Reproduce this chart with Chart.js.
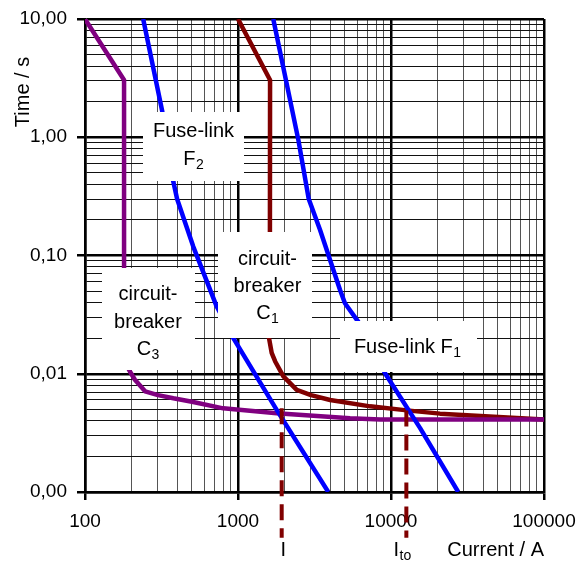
<!DOCTYPE html>
<html><head><meta charset="utf-8">
<script src="https://cdn.jsdelivr.net/npm/chart.js@4"></script>
<style>html,body{margin:0;padding:0;background:#fff;}canvas{display:block;}</style>
</head><body>
<canvas id="c" width="586" height="570"></canvas>
<script>
// ---- data ----
const c3Current = [100, 180, 180, 197, 212, 247, 300, 378, 500, 800, 1790, 5400, 8500, 100000];
const c3Time    = [10, 3.05, 0.013, 0.0104, 0.0089, 0.0071, 0.0066, 0.0062, 0.0058, 0.0051, 0.00464, 0.0042, 0.0041, 0.0041];
const c1Current = [1000, 1620, 1615, 1595, 1660, 1750, 1980, 2420, 3000, 4000, 7300, 12700, 20900, 100000];
const c1Time    = [10, 3.05, 0.03, 0.02, 0.015, 0.0127, 0.0095, 0.0073, 0.0066, 0.006, 0.0053, 0.0049, 0.0046, 0.0041];
const f2Current = [240, 320, 378, 400, 510, 726, 932, 1790, 3890];
const f2Time    = [10, 1.65, 0.42, 0.3, 0.119, 0.037, 0.02, 0.00495, 0.001];
const f1Current = [1700, 2480, 2900, 3435, 4640, 5000, 6100, 9140, 15500, 27500];
const f1Time    = [10, 0.95, 0.3, 0.165, 0.0513, 0.0395, 0.0276, 0.0101, 0.00347, 0.001];
const markerCurrent = [1930, 12600];
const markerTimeTop = [0.0051, 0.0049];
const markerTimeBottom = [0.00041, 0.00041];
const markerMain = ['I', 'I'];
const markerSub  = ['', 'to'];
const xTickValues = [100, 1000, 10000, 100000];
const xTickLabels = ['100', '1000', '10000', '100000'];
const yTickValues = [0.001, 0.01, 0.1, 1, 10];
const yTickLabels = ['0,00', '0,01', '0,10', '1,00', '10,00'];
const xTitle = 'Current / A';
const yTitle = 'Time / s';
const boxLines = [
  [['Fuse-link', ''], ['F', '2']],
  [['circuit-', ''], ['breaker', ''], ['C', '3']],
  [['circuit-', ''], ['breaker', ''], ['C', '1']],
  [['Fuse-link F', '1']]
];

// ---- helpers ----
const FAM = "'Liberation Sans', Arial, Helvetica, sans-serif";
const toXY = (xs, ys) => xs.map((x, i) => ({x: x, y: ys[i]}));
const isIn = (v, arr) => arr.some(t => Math.abs(v - t) / t < 1e-6);
function buildLogTicks(decades) {
  const out = [];
  for (let i = 0; i < decades.length; i++) {
    out.push({value: decades[i]});
    if (i < decades.length - 1) for (let d = 2; d <= 9; d++) out.push({value: decades[i] * d});
  }
  return out;
}
function labelFor(v, vals, labs) {
  for (let i = 0; i < vals.length; i++) if (Math.abs(v - vals[i]) / vals[i] < 1e-6) return labs[i];
  return '';
}
function drawSub(ctx, cx, y, main, sub, size) {
  const subSize = Math.round(size * 0.7);
  ctx.font = size + 'px ' + FAM;
  const wm = ctx.measureText(main).width;
  ctx.font = subSize + 'px ' + FAM;
  const ws = sub ? ctx.measureText(sub).width + 0.5 : 0;
  const x0 = cx - (wm + ws) / 2;
  ctx.textAlign = 'left';
  ctx.textBaseline = 'alphabetic';
  ctx.fillStyle = '#000';
  ctx.font = size + 'px ' + FAM;
  ctx.fillText(main, x0, y);
  if (sub) {
    ctx.font = subSize + 'px ' + FAM;
    ctx.fillText(sub, x0 + wm + 0.5, y + 4);
  }
}

// annotation layout (pixels)
const boxRects = [
  {x: 143, y: 112, w: 101, h: 69, cx: 193.5, base: 137, step: 28},
  {x: 102, y: 268, w: 93, h: 102, cx: 148, base: 300, step: 27.5},
  {x: 218, y: 232, w: 94, h: 106, cx: 267.5, base: 265, step: 26.8},
  {x: 340, y: 321, w: 137, h: 51, cx: 407.5, base: 353, step: 0}
];

const annot = {
  id: 'annot',
  afterDatasetsDraw(chart) {
    const ctx = chart.ctx;
    ctx.save();
    boxRects.forEach((b, i) => {
      ctx.fillStyle = '#fff';
      ctx.fillRect(b.x, b.y, b.w, b.h);
      boxLines[i].forEach((ln, j) => drawSub(ctx, b.cx, b.base + j * b.step, ln[0], ln[1], 20));
    });
    ctx.restore();
  },
  afterDraw(chart) {
    const ctx = chart.ctx;
    const xs = chart.scales.x;
    ctx.save();
    ctx.translate(23, 92);
    ctx.rotate(-Math.PI / 2);
    ctx.font = '20px ' + FAM;
    ctx.fillStyle = '#000';
    ctx.textAlign = 'center';
    ctx.textBaseline = 'middle';
    ctx.fillText(yTitle, 0, 0);
    ctx.restore();
    ctx.save();
    const offs = [1.5, -4];
    markerCurrent.forEach((v, i) => {
      const px = xs.getPixelForValue(v);
      drawSub(ctx, px + offs[i], 556, markerMain[i], markerSub[i], 20);
    });
    ctx.restore();
  }
};

const gridColor = (vals, minorCol) => (c) => (c.tick && isIn(c.tick.value, vals)) ? '#000' : minorCol;
const gridWidth = (vals) => (c) => (c.tick && isIn(c.tick.value, vals)) ? 2.5 : 1;
const tickCol = (vals) => (c) => (c.tick && isIn(c.tick.value, vals)) ? '#000' : 'rgba(0,0,0,0)';

const lineDs = (label, xs, ys, color, order) => ({
  label: label, data: toXY(xs, ys), borderColor: color, backgroundColor: color,
  borderWidth: 4.5, showLine: true, pointRadius: 0, tension: 0, fill: false, order: order,
  borderJoinStyle: 'round'
});

const datasets = [
  lineDs('Circuit-breaker C3', c3Current, c3Time, '#800080', 3),
  lineDs('Circuit-breaker C1', c1Current, c1Time, '#800000', 4),
  lineDs('Fuse-link F2', f2Current, f2Time, '#0000ff', 2),
  lineDs('Fuse-link F1', f1Current, f1Time, '#0000ff', 2)
];
markerCurrent.forEach((v, i) => {
  datasets.push({
    label: 'marker ' + i,
    data: [{x: v, y: markerTimeTop[i]}, {x: v, y: markerTimeBottom[i]}],
    borderColor: '#800000', borderWidth: 4, borderDash: [16, 8], borderCapStyle: 'butt',
    showLine: true, pointRadius: 0, clip: false, order: 0
  });
});

new Chart(document.getElementById('c'), {
  type: 'scatter',
  data: {datasets: datasets},
  options: {
    responsive: false,
    animation: false,
    events: [],
    layout: {padding: {top: 19, right: 42, left: 0, bottom: 0}},
    plugins: {legend: {display: false}, tooltip: {enabled: false}},
    scales: {
      x: {
        type: 'logarithmic', position: 'bottom', min: 100, max: 100000,
        afterBuildTicks: s => { s.ticks = buildLogTicks(xTickValues); },
        afterFit: s => { s.height = 78; s.paddingLeft = 0; s.paddingRight = 0; },
        ticks: {autoSkip: false, maxRotation: 0, minRotation: 0, padding: 10, color: '#000',
          font: {family: FAM, size: 19},
          callback: v => labelFor(v, xTickValues, xTickLabels)},
        grid: {color: gridColor(xTickValues, '#555'), lineWidth: gridWidth(xTickValues),
          tickLength: 8, tickColor: tickCol(xTickValues), tickWidth: 2.5},
        border: {display: true, color: '#000', width: 2.5},
        title: {display: true, text: xTitle, align: 'end', color: '#000',
          font: {family: FAM, size: 20}, padding: {top: 0, bottom: 8}}
      },
      y: {
        type: 'logarithmic', position: 'left', min: 0.001, max: 10,
        afterBuildTicks: s => { s.ticks = buildLogTicks(yTickValues); },
        afterFit: s => { s.width = 85; s.paddingTop = 0; s.paddingBottom = 0; },
        ticks: {autoSkip: false, padding: 10, color: '#000',
          font: {family: FAM, size: 19},
          callback: v => labelFor(v, yTickValues, yTickLabels)},
        grid: {color: gridColor(yTickValues, '#111'), lineWidth: gridWidth(yTickValues),
          tickLength: 8, tickColor: tickCol(yTickValues), tickWidth: 2.5},
        border: {display: true, color: '#000', width: 2.5}
      }
    }
  },
  plugins: [annot]
});
</script>
</body></html>
